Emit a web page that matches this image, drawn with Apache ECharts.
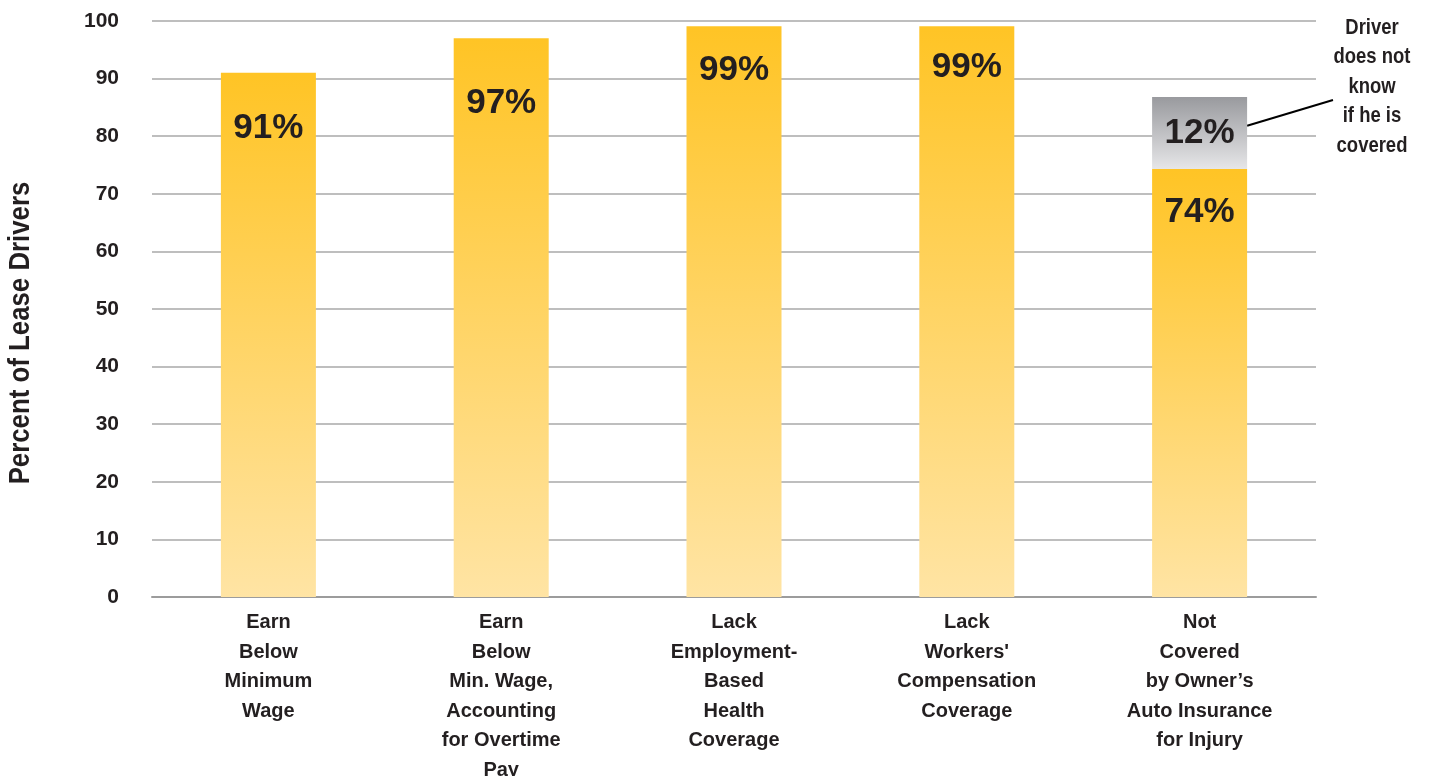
<!DOCTYPE html>
<html>
<head>
<meta charset="utf-8">
<script src="https://cdn.jsdelivr.net/npm/echarts@6/dist/echarts.min.js"></script>
<style>
html,body{margin:0;padding:0;background:#fff;}
#chart{width:1429px;height:776px;}
</style>
</head>
<body>
<div id="chart"></div>
<script>
// ---- data ----
const categories = [
  'Earn\nBelow\nMinimum\nWage',
  'Earn\nBelow\nMin. Wage,\nAccounting\nfor Overtime\nPay',
  'Lack\nEmployment-\nBased\nHealth\nCoverage',
  "Lack\nWorkers'\nCompensation\nCoverage",
  'Not\nCovered\nby Owner’s\nAuto Insurance\nfor Injury'
];
const notCoveredValues = [91, 97, 99.1, 99.1, 74.3];
const unknownValues = [null, null, null, null, 12.5];
const notCoveredLabels = ['91%', '97%', '99%', '99%', '74%'];
const unknownLabels = ['', '', '', '', '12%'];
const yAxisTitle = 'Percent of Lease Drivers';
const annotationText = 'Driver\ndoes not\nknow\nif he is\ncovered';
const yMin = 0, yMax = 100, yStep = 10;

// ---- styling ----
const sans = '"Liberation Sans", Arial, Helvetica, sans-serif';
const textColor = '#231f20';
const labelDy = [56, 65, 44, 41, 43]; // label centre offset below bar top

const yellow = new echarts.graphic.LinearGradient(0, 0, 0, 1, [
  {offset: 0, color: '#FFC425'},
  {offset: 1, color: '#FFE4A4'}
]);
const gray = new echarts.graphic.LinearGradient(0, 0, 0, 1, [
  {offset: 0, color: '#999A9E'},
  {offset: 1, color: '#E6E6E8'}
]);

const chart = echarts.init(document.getElementById('chart'), null, {renderer: 'canvas'});

const option = {
  animation: false,
  backgroundColor: '#ffffff',
  grid: {left: 152, right: 113, top: 21, bottom: 179, containLabel: false, outerBoundsMode: 'none'},
  xAxis: {
    type: 'category',
    data: categories,
    axisLine: {show: true, lineStyle: {color: '#9c9c9c', width: 2}},
    axisTick: {show: false},
    axisLabel: {
      interval: 0,
      margin: 11,
      color: textColor,
      fontFamily: sans,
      fontWeight: 'bold',
      fontSize: 20,
      lineHeight: 29.5,
      align: 'center'
    }
  },
  yAxis: {
    type: 'value',
    min: yMin, max: yMax, interval: yStep,
    axisLine: {show: false},
    axisTick: {show: false},
    splitLine: {show: true, lineStyle: {color: '#a9a9a9', width: 1.5}},
    axisLabel: {
      margin: 33,
      color: textColor,
      fontFamily: sans,
      fontWeight: 'bold',
      fontSize: 21
    }
  },
  series: [
    {
      type: 'bar',
      stack: 'total',
      barWidth: 95,
      data: notCoveredValues.map((v, i) => ({
        value: v,
        label: {position: ['50%', labelDy[i]]}
      })),
      itemStyle: {color: yellow},
      label: {
        show: true,
        align: 'center',
        verticalAlign: 'middle',
        formatter: p => notCoveredLabels[p.dataIndex],
        color: textColor,
        fontFamily: sans,
        fontWeight: 'bold',
        fontSize: 35
      }
    },
    {
      type: 'bar',
      stack: 'total',
      barWidth: 95,
      data: unknownValues,
      itemStyle: {color: gray},
      label: {
        show: true,
        position: 'inside',
        formatter: p => unknownLabels[p.dataIndex],
        color: textColor,
        fontFamily: sans,
        fontWeight: 'bold',
        fontSize: 35
      }
    }
  ]
};
chart.setOption(option);

// annotation leader line, anchored to the grey segment through the axes
const anchor = chart.convertToPixel({xAxisIndex: 0, yAxisIndex: 0}, [4, notCoveredValues[4] + unknownValues[4] * 0.6]);
const textPos = [1372, 13];
chart.setOption({
  graphic: [
    {
      type: 'text',
      x: 21, y: 333,
      rotation: Math.PI / 2,
      scaleX: 0.89,
      style: {
        text: yAxisTitle,
        x: 0, y: 0,
        align: 'center', verticalAlign: 'middle',
        fill: textColor,
        font: 'bold 29px ' + sans
      }
    },
    {
      type: 'text',
      x: textPos[0], y: textPos[1],
      scaleX: 0.84,
      style: {
        text: annotationText,
        x: 0, y: 0,
        align: 'center', verticalAlign: 'top',
        fill: textColor,
        font: 'bold 22px ' + sans,
        lineHeight: 29.5
      }
    },
    {
      type: 'line',
      shape: {x1: anchor[0] + 47.5, y1: anchor[1], x2: 1333, y2: 100},
      style: {stroke: '#000', lineWidth: 2}
    }
  ]
});
</script>
</body>
</html>
